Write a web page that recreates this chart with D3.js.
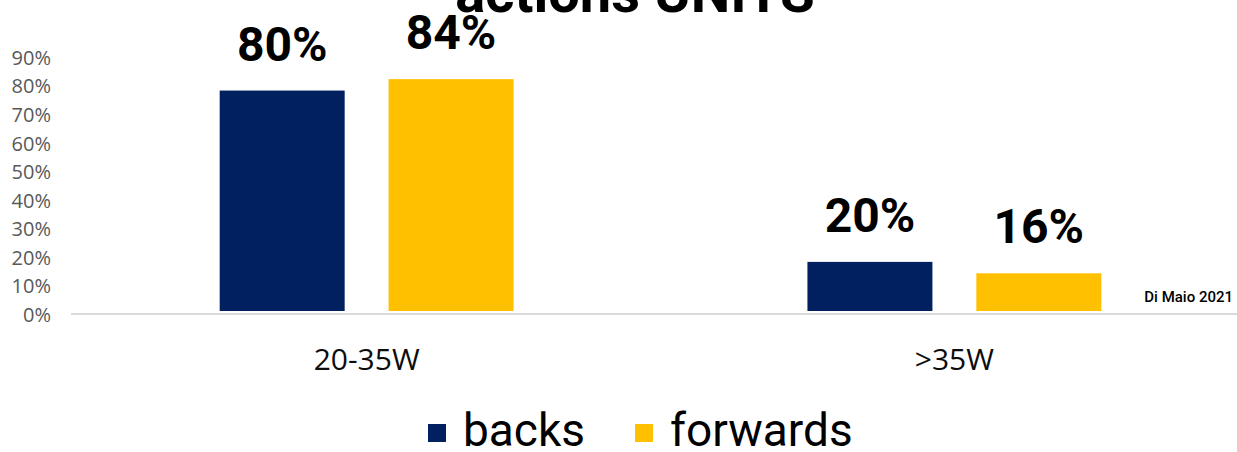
<!DOCTYPE html>
<html>
<head>
<meta charset="utf-8">
<script src="https://d3js.org/d3.v7.min.js"></script>
<style>
  body { margin: 0; background: #fff; }
</style>
</head>
<body>
<script>
// data
var categories = ["20-35W", ">35W"];
var series = ["backs", "forwards"];
var backs = [0.80, 0.20];
var forwards = [0.84, 0.16];
var valueLabels = [["80%", "20%"], ["84%", "16%"]];
var tickValues = [0, 0.1, 0.2, 0.3, 0.4, 0.5, 0.6, 0.7, 0.8, 0.9];
var colors = ["#002060", "#FFC000"];

var W = 1237, H = 452;
var barBottom = 311;

var svg = d3.select("body").append("svg")
  .attr("width", W)
  .attr("height", H);

// scales
var y = d3.scaleLinear().domain([0, 0.9]).range([319, 62]);
var x0 = d3.scaleBand().domain(categories).range([72.75, 1248.25])
  .paddingInner(0.5).paddingOuter(0.25);
var x1 = d3.scaleBand().domain(series).range([0, x0.bandwidth()])
  .paddingInner(0.26).paddingOuter(0);
var color = d3.scaleOrdinal().domain(series).range(colors);

// title (clipped at top in the original)
svg.append("text")
  .attr("x", 635).attr("y", 12)
  .attr("text-anchor", "middle")
  .style("font-family", "Roboto, sans-serif")
  .style("font-weight", "bold")
  .style("font-size", "56px")
  .text("actions UNITS");

// y tick labels
var yAxis = d3.axisLeft(y).tickValues(tickValues)
  .tickFormat(d3.format(".0%")).tickSize(0).tickPadding(0);
var gy = svg.append("g").attr("transform", "translate(51,-4)").call(yAxis);
gy.select(".domain").remove();
gy.selectAll("text")
  .style("font-family", "'Open Sans', sans-serif")
  .style("font-size", "20px")
  .attr("fill", "#595959");

// baseline
svg.append("line")
  .attr("x1", 71).attr("x2", W)
  .attr("y1", 314).attr("y2", 314)
  .attr("stroke", "#d9d9d9").attr("stroke-width", 2);

// bars
var rows = [];
categories.forEach(function(c, i) {
  rows.push({cat: c, s: "backs", v: backs[i], label: valueLabels[0][i]});
  rows.push({cat: c, s: "forwards", v: forwards[i], label: valueLabels[1][i]});
});

svg.selectAll("rect.bar")
  .data(rows)
  .enter().append("rect")
  .attr("class", "bar")
  .attr("x", function(d) { return x0(d.cat) + x1(d.s); })
  .attr("width", x1.bandwidth())
  .attr("y", function(d) { return y(d.v); })
  .attr("height", function(d) { return barBottom - y(d.v); })
  .attr("fill", function(d) { return color(d.s); });

// value labels
svg.selectAll("text.val")
  .data(rows)
  .enter().append("text")
  .attr("class", "val")
  .attr("x", function(d) { return x0(d.cat) + x1(d.s) + x1.bandwidth() / 2; })
  .attr("y", function(d) { return y(d.v) - 30; })
  .attr("text-anchor", "middle")
  .style("font-family", "Roboto, sans-serif")
  .style("font-weight", "bold")
  .style("font-size", "48px")
  .text(function(d) { return d.label; });

// category labels
svg.selectAll("text.cat")
  .data(categories)
  .enter().append("text")
  .attr("class", "cat")
  .attr("x", function(d) { return x0(d) + x0.bandwidth() / 2; })
  .attr("y", 370)
  .attr("text-anchor", "middle")
  .style("font-family", "'Open Sans', sans-serif")
  .style("font-size", "30px")
  .attr("fill", "#0d0d0d")
  .text(function(d) { return d; });

// source note
svg.append("text")
  .attr("x", 1233).attr("y", 302)
  .attr("text-anchor", "end")
  .style("font-family", "Roboto, sans-serif")
  .style("font-weight", 500)
  .style("font-size", "15px")
  .text("Di Maio 2021");

// legend
var legendX = [428, 635];
var legend = svg.selectAll(".legend")
  .data(series)
  .enter().append("g")
  .attr("class", "legend")
  .attr("transform", function(d, i) { return "translate(" + legendX[i] + ",0)"; });

legend.append("rect")
  .attr("x", 0).attr("y", 424)
  .attr("width", 18).attr("height", 18)
  .attr("fill", color);

legend.append("text")
  .attr("x", 35).attr("y", 446)
  .style("font-family", "Roboto, sans-serif")
  .style("font-size", "46px")
  .text(function(d) { return d; });
</script>
</body>
</html>
